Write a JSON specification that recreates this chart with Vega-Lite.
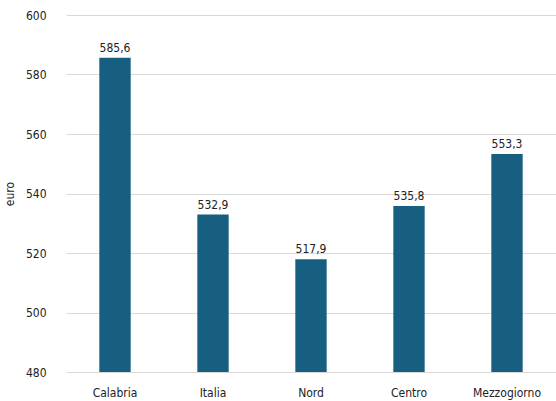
{
  "$schema": "https://vega.github.io/schema/vega-lite/v6.json",
  "width": 490,
  "height": 357,
  "autosize": {"type": "none"},
  "padding": {"left": 66, "top": 15, "right": 0, "bottom": 29},
  "background": "white",
  "config": {
    "view": {"stroke": null},
    "font": "DejaVu Sans Condensed",
    "axis": {"labelFont": "DejaVu Sans Condensed", "titleFont": "DejaVu Sans Condensed"}
  },
  "data": {
    "values": [
      {"area": "Calabria", "value": 585.6, "label": "585,6"},
      {"area": "Italia", "value": 532.9, "label": "532,9"},
      {"area": "Nord", "value": 517.9, "label": "517,9"},
      {"area": "Centro", "value": 535.8, "label": "535,8"},
      {"area": "Mezzogiorno", "value": 553.3, "label": "553,3"}
    ]
  },
  "encoding": {
    "x": {
      "field": "area",
      "type": "nominal",
      "sort": null,
      "scale": {"paddingInner": 0.68, "paddingOuter": 0.34},
      "axis": {
        "title": null,
        "labelAngle": 0,
        "ticks": false,
        "domain": false,
        "labelPadding": 15,
        "labelFontSize": 12,
        "labelColor": "#222222"
      }
    },
    "y": {
      "field": "value",
      "type": "quantitative",
      "scale": {"domain": [480, 600], "nice": false, "zero": false},
      "axis": {
        "title": "euro",
        "titleFontWeight": "normal",
        "titleFontSize": 12,
        "titleColor": "#222222",
        "titlePadding": 9,
        "values": [480, 500, 520, 540, 560, 580, 600],
        "ticks": false,
        "domain": false,
        "labelPadding": 20,
        "labelFontSize": 12,
        "labelColor": "#222222",
        "gridColor": "#d9d9d9",
        "gridWidth": 1
      }
    }
  },
  "layer": [
    {"mark": {"type": "bar", "color": "#175f80", "clip": true}},
    {
      "mark": {"type": "text", "dy": -10, "fontSize": 12, "color": "#222222"},
      "encoding": {"text": {"field": "label"}}
    }
  ]
}
